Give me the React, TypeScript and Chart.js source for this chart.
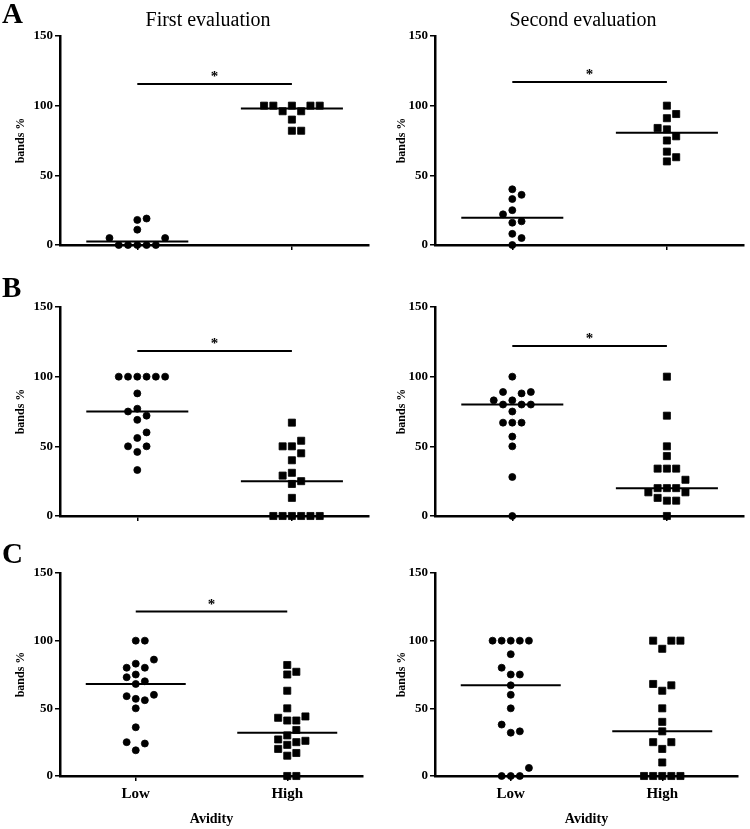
import React, { useEffect, useRef } from 'react';
import { Chart, registerables } from 'chart.js';

Chart.register(...registerables);

// ---------- data ----------
const CATEGORIES = ['Low', 'High'];
const Y_TICKS = [0, 50, 100, 150];
const PANEL_LETTERS = ['A', 'B', 'C'];
const COLUMN_TITLES = ['First evaluation', 'Second evaluation'];
const Y_AXIS_TITLE = 'bands %';
const X_AXIS_TITLE = 'Avidity';
const SIGNIFICANCE_MARK = '*';

const A1_LOW = [0, 0, 0, 0, 0, 5, 5, 11, 18, 19];
const A1_HIGH = [100, 100, 100, 100, 100, 96, 96, 90, 82, 82];
const A2_LOW = [0, 5, 8, 16, 17, 22, 25, 33, 36, 40];
const A2_HIGH = [100, 94, 91, 84, 83, 78, 75, 67, 63, 60];
const B1_LOW = [100, 100, 100, 100, 100, 100, 88, 77, 75, 72, 69, 60, 56, 50, 50, 46, 33];
const B1_HIGH = [67, 54, 50, 50, 45, 40, 31, 29, 25, 23, 13, 0, 0, 0, 0, 0, 0];
const B2_LOW = [100, 89, 89, 88, 83, 83, 80, 80, 80, 75, 67, 67, 67, 57, 50, 28, 0];
const B2_HIGH = [100, 72, 50, 43, 34, 34, 34, 26, 20, 20, 20, 17, 17, 13, 11, 11, 0];
const C1_LOW = [100, 100, 86, 83, 80, 80, 75, 73, 70, 68, 60, 59, 57, 56, 50, 36, 25, 24, 19];
const C1_HIGH = [82, 77, 75, 63, 50, 44, 43, 41, 41, 34, 30, 27, 26, 25, 23, 20, 17, 15, 0, 0];
const C2_LOW = [100, 100, 100, 100, 100, 90, 80, 75, 75, 67, 60, 50, 38, 33, 32, 6, 0, 0, 0];
const C2_HIGH = [100, 100, 100, 94, 68, 67, 63, 50, 40, 33, 25, 25, 20, 10, 0, 0, 0, 0, 0];

// significance bar level per panel (null = no bar)
const SIG_LEVELS: (number | null)[] = [115.5, 117, 118.5, 122, 121.5, null];

// ---------- layout / style ----------
const SERIF = '"Liberation Serif", "Times New Roman", Times, serif';
const SWARM_STEP = 0.06; // horizontal spacing of stacked symbols (x units)
const SWARM_COLLIDE = 7; // vertical distance (y units) under which symbols collide
const MEDIAN_HALF = 0.33;

const ROWS = [
  { top: 0, height: 270, areaTop: 36, areaBottom: 245, areaRight: 373, letterBaseline: 23 },
  { top: 270, height: 270, areaTop: 37, areaBottom: 246, areaRight: 373, letterBaseline: 27 },
  { top: 540, height: 289, areaTop: 33, areaBottom: 236, areaRight: 363, letterBaseline: 23 },
];

const PANELS = [
  { row: 0, col: 0, low: A1_LOW, high: A1_HIGH, sig: SIG_LEVELS[0] },
  { row: 0, col: 1, low: A2_LOW, high: A2_HIGH, sig: SIG_LEVELS[1] },
  { row: 1, col: 0, low: B1_LOW, high: B1_HIGH, sig: SIG_LEVELS[2] },
  { row: 1, col: 1, low: B2_LOW, high: B2_HIGH, sig: SIG_LEVELS[3] },
  { row: 2, col: 0, low: C1_LOW, high: C1_HIGH, sig: SIG_LEVELS[4] },
  { row: 2, col: 1, low: C2_LOW, high: C2_HIGH, sig: SIG_LEVELS[5] },
];

function median(values: number[]): number {
  const s = [...values].sort((a, b) => a - b);
  const n = s.length;
  return n % 2 ? s[(n - 1) / 2] : (s[n / 2 - 1] + s[n / 2]) / 2;
}

// simple beeswarm: offsets 0, +1, -1, +2, -2 ... avoiding vertical collisions
function swarmOffsets(values: number[]): number[] {
  const order = values.map((_, i) => i).sort((a, b) => values[a] - values[b]);
  const placed: { k: number; v: number }[] = [];
  const res: number[] = new Array(values.length).fill(0);
  for (const i of order) {
    const v = values[i];
    for (let n = 0; n < 50; n++) {
      const k = n === 0 ? 0 : n % 2 === 1 ? (n + 1) / 2 : -n / 2;
      if (!placed.some((p) => p.k === k && Math.abs(p.v - v) < SWARM_COLLIDE)) {
        placed.push({ k, v });
        res[i] = k;
        break;
      }
    }
  }
  return res;
}

function toPoints(values: number[], cat: number) {
  const offs = swarmOffsets(values);
  return values.map((v, i) => ({ x: cat + offs[i] * SWARM_STEP, y: v }));
}

function Panel({ row, col, low, high, sig }: { row: number; col: number; low: number[]; high: number[]; sig: number | null }) {
  const ref = useRef<HTMLCanvasElement>(null);
  const lay = ROWS[row];
  useEffect(() => {
    if (!ref.current) return;
    const lowMed = median(low);
    const highMed = median(high);
    const lineDs = (data: { x: number; y: number }[]) => ({
      type: 'scatter' as const,
      data,
      showLine: true,
      borderColor: '#000',
      borderWidth: 2,
      pointRadius: 0,
      clip: false as const,
    });
    const datasets: any[] = [
      {
        data: toPoints(low, 1),
        pointStyle: 'circle',
        pointRadius: 3.5,
        pointBorderWidth: 0.8,
        pointBackgroundColor: '#000',
        pointBorderColor: '#000',
        clip: false,
      },
      {
        data: toPoints(high, 2),
        pointStyle: 'rect',
        pointRadius: 5,
        pointBorderWidth: 0.8,
        pointBackgroundColor: '#000',
        pointBorderColor: '#000',
        clip: false,
      },
      lineDs([{ x: 1 - MEDIAN_HALF, y: lowMed }, { x: 1 + MEDIAN_HALF, y: lowMed }]),
      lineDs([{ x: 2 - MEDIAN_HALF, y: highMed }, { x: 2 + MEDIAN_HALF, y: highMed }]),
    ];
    if (sig !== null) datasets.push(lineDs([{ x: 1, y: sig }, { x: 2, y: sig }]));

    const showXLabels = row === 2;
    const textPlugin = {
      id: 'panelText',
      afterDraw(chart: any) {
        const ctx = chart.ctx;
        ctx.save();
        ctx.fillStyle = '#000';
        ctx.textBaseline = 'alphabetic';
        if (col === 0) {
          ctx.font = `bold 29px ${SERIF}`;
          ctx.textAlign = 'left';
          ctx.fillText(PANEL_LETTERS[row], 2, lay.letterBaseline);
        }
        if (row === 0) {
          ctx.font = `20px ${SERIF}`;
          ctx.textAlign = 'center';
          ctx.fillText(COLUMN_TITLES[col], 208, 26);
        }
        if (sig !== null) {
          const xs = chart.scales.x;
          const ys = chart.scales.y;
          ctx.font = `bold 15px ${SERIF}`;
          ctx.textAlign = 'center';
          ctx.fillText(SIGNIFICANCE_MARK, xs.getPixelForValue(1.5), ys.getPixelForValue(sig) - 3);
        }
        ctx.restore();
      },
    };

    const chart = new Chart(ref.current, {
      type: 'scatter',
      data: { datasets },
      plugins: [textPlugin],
      options: {
        animation: false,
        responsive: false,
        maintainAspectRatio: false,
        events: [],
        layout: { padding: { left: 0, top: lay.areaTop, right: 375 - lay.areaRight, bottom: 0 } },
        plugins: { legend: { display: false }, tooltip: { enabled: false }, title: { display: false } },
        scales: {
          x: {
            type: 'linear',
            position: 'bottom',
            min: 0.5,
            max: 2.5,
            afterBuildTicks: (s: any) => {
              s.ticks = CATEGORIES.map((_, i) => ({ value: i + 1 }));
            },
            afterFit: (s: any) => {
              s.height = lay.height - lay.areaBottom;
            },
            ticks: {
              callback: (v: any) => (showXLabels ? CATEGORIES[Number(v) - 1] : ''),
              font: { family: SERIF, size: 15, weight: 'bold' },
              color: '#000',
              padding: 4,
              maxRotation: 0,
              autoSkip: false,
            },
            grid: { display: true, drawOnChartArea: false, drawTicks: true, tickLength: 5, color: '#000', lineWidth: 1.5 },
            border: { display: true, color: '#000', width: 2.5 },
            title: {
              display: showXLabels,
              text: X_AXIS_TITLE,
              color: '#000',
              font: { family: SERIF, size: 14, weight: 'bold' },
              padding: { top: 0, bottom: 1 },
            },
          },
          y: {
            type: 'linear',
            position: 'left',
            min: 0,
            max: 150,
            afterBuildTicks: (s: any) => {
              s.ticks = Y_TICKS.map((v) => ({ value: v }));
            },
            afterFit: (s: any) => {
              s.width = 60;
            },
            ticks: {
              font: { family: SERIF, size: 13, weight: 'bold' },
              color: '#000',
              padding: 2,
            },
            grid: { display: true, drawOnChartArea: false, drawTicks: true, tickLength: 5, color: '#000', lineWidth: 1.5 },
            border: { display: true, color: '#000', width: 2.5 },
            title: {
              display: true,
              text: Y_AXIS_TITLE,
              color: '#000',
              font: { family: SERIF, size: 12, weight: 'bold' },
              padding: { top: col === 0 ? 14 : 20, bottom: 0 },
            },
          },
        },
      } as any,
    });
    return () => chart.destroy();
  }, []);
  return (
    <canvas
      ref={ref}
      width={375}
      height={lay.height}
      style={{ position: 'absolute', left: col * 375, top: lay.top, width: 375, height: lay.height, display: 'block' }}
    />
  );
}

export default function App() {
  return (
    <div style={{ position: 'absolute', left: 0, top: 0, width: 750, height: 829, background: '#fff', overflow: 'hidden' }}>
      {PANELS.map((p, i) => (
        <Panel key={i} row={p.row} col={p.col} low={p.low} high={p.high} sig={p.sig} />
      ))}
    </div>
  );
}
